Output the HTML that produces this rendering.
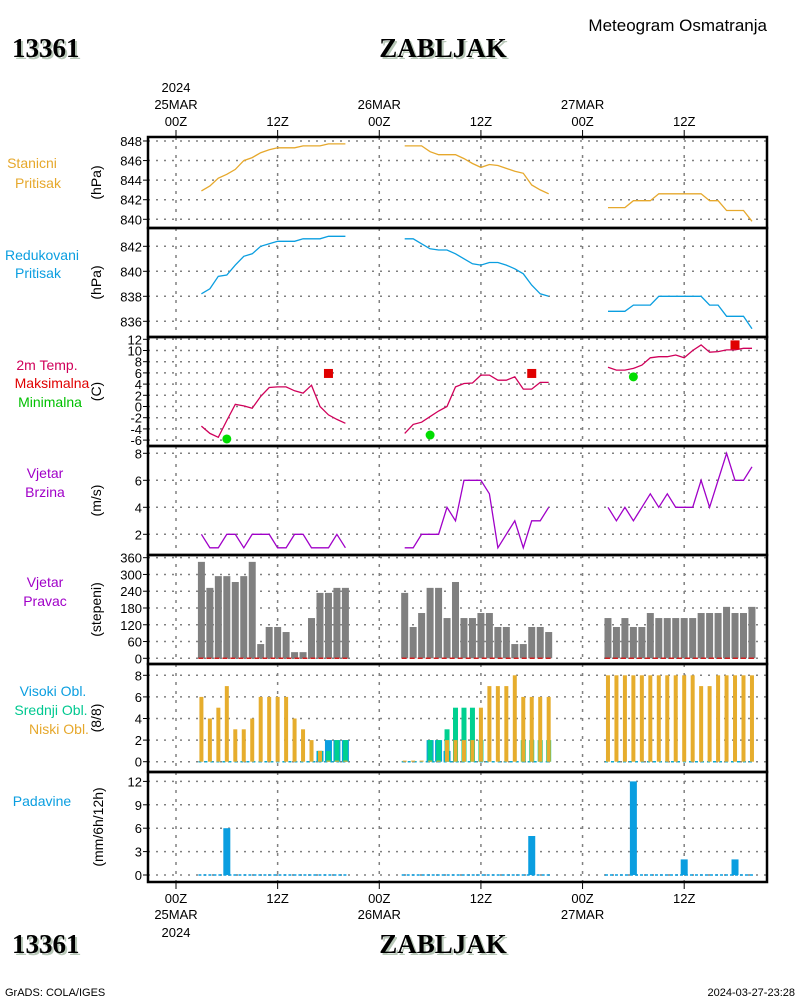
<!DOCTYPE html>
<html><head><meta charset="utf-8"><style>
html,body{margin:0;padding:0;background:#fff;width:800px;height:1000px;overflow:hidden}
svg{display:block}
text{font-family:"Liberation Sans",sans-serif}
.t{font-family:"Liberation Serif",serif;font-weight:bold;font-size:27px;fill:#000}
.ts{font-family:"Liberation Serif",serif;font-weight:bold;font-size:27px;fill:#b8c8b8}
.ax{font-size:13px;fill:#000}
.lb{font-size:14px}
</style></head><body>
<svg id="chart" width="800" height="1000" viewBox="0 0 800 1000" xmlns="http://www.w3.org/2000/svg">
<g>
<text class="ts" x="14" y="59">13361</text><text class="t" x="12" y="57">13361</text>
<text class="ts" x="445" y="59" text-anchor="middle">ZABLJAK</text><text class="t" x="443" y="57" text-anchor="middle">ZABLJAK</text>
<text x="767" y="31" text-anchor="end" font-size="17">Meteogram Osmatranja</text>
<text class="ts" x="14" y="955">13361</text><text class="t" x="12" y="953">13361</text>
<text class="ts" x="445" y="955" text-anchor="middle">ZABLJAK</text><text class="t" x="443" y="953" text-anchor="middle">ZABLJAK</text>
<text x="5" y="996" font-size="11">GrADS: COLA/IGES</text>
<text x="795" y="996" font-size="11" text-anchor="end">2024-03-27-23:28</text>
</g>
<g class="lb" text-anchor="middle">
<text x="32" y="168" fill="#e6a82c">Stanicni</text><text x="38" y="188" fill="#e6a82c">Pritisak</text>
<text x="42" y="260" fill="#0a9ee0">Redukovani</text><text x="38" y="278" fill="#0a9ee0">Pritisak</text>
<text x="47" y="370" fill="#d0005a">2m Temp.</text><text x="52" y="388" fill="#e00000">Maksimalna</text><text x="50" y="407" fill="#00c000">Minimalna</text>
<text x="45" y="478" fill="#a000c8">Vjetar</text><text x="45" y="497" fill="#a000c8">Brzina</text>
<text x="45" y="587" fill="#a000c8">Vjetar</text><text x="45" y="606" fill="#a000c8">Pravac</text>
<text x="53" y="696" fill="#0a9ee0">Visoki Obl.</text><text x="51" y="715" fill="#00c890">Srednji Obl.</text><text x="59" y="734" fill="#e6a82c">Niski Obl.</text>
<text x="42" y="806" fill="#0a9ee0">Padavine</text>
</g>
<g id="plots"></g>
</svg>
<script>
const NS="http://www.w3.org/2000/svg";
const root=document.getElementById('plots');
// ---- data (per day: 25MAR, 26MAR, 27MAR; hours 03..20) ----
const dayLabels=["25MAR","26MAR","27MAR"];
const obsHours=[3,4,5,6,7,8,9,10,11,12,13,14,15,16,17,18,19,20];
const stationPressure=[
[842.9,843.4,844.2,844.6,845.1,846.0,846.3,846.8,847.1,847.3,847.3,847.3,847.5,847.5,847.5,847.7,847.7,847.7],
[847.5,847.5,847.5,846.9,846.6,846.6,846.6,846.2,845.7,845.3,845.6,845.5,845.2,844.9,844.7,843.5,843.0,842.6],
[841.2,841.2,841.2,841.9,841.9,841.9,842.6,842.6,842.6,842.6,842.6,842.6,841.9,841.9,840.9,840.9,840.9,839.8]];
const reducedPressure=[
[838.2,838.6,839.6,839.7,840.5,841.2,841.4,842.0,842.2,842.4,842.4,842.4,842.6,842.6,842.6,842.8,842.8,842.8],
[842.6,842.6,842.2,841.8,841.7,841.7,841.4,841.0,840.6,840.5,840.7,840.7,840.5,840.2,839.8,838.9,838.2,838.0],
[836.8,836.8,836.8,837.3,837.3,837.3,838.0,838.0,838.0,838.0,838.0,838.0,837.3,837.3,836.4,836.4,836.4,835.4]];
const temperature=[
[-3.5,-4.8,-5.5,-2.5,0.4,0.1,-0.3,1.8,3.4,3.5,3.5,2.8,2.4,3.8,0.0,-1.5,-2.3,-3.0],
[-4.8,-3.2,-2.8,-1.8,-0.8,0.0,3.5,4.1,4.2,5.6,5.6,4.7,4.7,5.3,3.1,3.1,4.3,4.3],
[7.0,6.5,6.5,6.8,7.4,8.7,8.9,8.9,9.2,8.7,10.0,11.0,9.7,9.8,10.1,10.1,10.4,10.4]];
const tMax=[5.9,5.9,11.0];
const tMaxHour=[18,18,18];
const tMin=[-5.8,-5.1,5.3];
const tMinHour=[6,6,6];
const windSpeed=[
[2,1,1,2,2,1,2,2,2,1,1,2,2,1,1,1,2,1],
[1,1,2,2,2,4,3,6,6,6,5,1,2,3,1,3,3,4],
[4,3,4,3,4,5,4,5,4,4,4,6,4,6,8,6,6,7]];
const windDir=[
[345,252,294,294,273,294,345,51,112,112,94,22,22,144,234,234,252,252],
[234,112,162,252,252,144,273,144,144,162,162,112,112,51,51,112,112,94],
[144,112,144,112,112,162,144,144,144,144,144,162,162,162,184,162,162,184]];
const cloudHigh=[
[0,0,0,0,0,0,0,0,0,0,0,0,0,0,1,2,2,2],
[0,0,0,2,2,1,0,0,0,0,0,0,0,0,0,0,0,0],
[0,0,0,0,0,0,0,0,0,0,0,0,0,0,0,0,0,0]];
const cloudMid=[
[0,0,0,0,0,0,0,0,0,0,0,0,0,0,1,1,2,2],
[0,0,0,2,2,3,5,5,5,2,0,0,0,0,2,2,2,2],
[0,0,0,0,0,0,0,0,0,0,0,0,0,0,0,0,0,0]];
const cloudLow=[
[6,4,5,7,3,3,4,6,6,6,6,4,3,2,1,0,0,0],
[0,0,0,0,0,2,2,2,2,5,7,7,7,8,6,6,6,6],
[8,8,8,8,8,8,8,8,8,8,8,7,7,8,8,8,8,8]];
const precipHours=[6,12,18];
const precip=[[6,0,0],[0,0,5],[12,2,2]];
// ---- tick labels ----
const p1Ticks=[848,846,844,842,840];
const p2Ticks=[842,840,838,836];
const p3Ticks=[12,10,8,6,4,2,0,-2,-4,-6];
const p4Ticks=[8,6,4,2];
const p5Ticks=[360,300,240,180,120,60,0];
const p6Ticks=[8,6,4,2,0];
const p7Ticks=[12,9,6,3,0];

// ---- axis functions ----
const X0=148,X1=767;
function xT(day,h){return 176+8.47*(day*24+h);}
const panels=[
 {name:'station-pressure',top:137,bot:228,v0:840,y0:219.3,k:9.79,ticks:p1Ticks,title:'(hPa)'},
 {name:'reduced-pressure',top:228,bot:337,v0:836,y0:321.3,k:12.5,ticks:p2Ticks,title:'(hPa)'},
 {name:'temperature',top:337,bot:446,v0:0,y0:406.5,k:5.6,ticks:p3Ticks,title:'(C)'},
 {name:'wind-speed',top:446,bot:555,v0:0,y0:561.3,k:13.5,ticks:p4Ticks,title:'(m/s)'},
 {name:'wind-direction',top:555,bot:664,v0:0,y0:658.3,k:0.2795,ticks:p5Ticks,title:'(stepeni)'},
 {name:'cloud-cover',top:664,bot:772,v0:0,y0:761.7,k:10.8,ticks:p6Ticks,title:'(8/8)'},
 {name:'precipitation',top:772,bot:882,v0:0,y0:875,k:7.8,ticks:p7Ticks,title:'(mm/6h/12h)'}];
function yS(p,v){return p.y0-p.k*(v-p.v0);}
function mk(tag,attrs,parent){const e=document.createElementNS(NS,tag);for(const a in attrs)e.setAttribute(a,attrs[a]);(parent||root).appendChild(e);return e;}

const grid=mk('g',{});


panels.forEach((p,pi)=>{
  const g=mk('g',{});
  
  
  p.g=g;
  p.ticks.forEach(t=>{
    const y=yS(p,t);
    mk('line',{x1:X0,x2:X1,y1:y,y2:y,stroke:'#808080','stroke-width':1.5,'stroke-dasharray':'2,6'},grid);
    mk('line',{x1:X0-5,x2:X0,y1:y,y2:y,stroke:'#000','stroke-width':1},g);
    const tx=mk('text',{x:X0-6,y:y+5,'text-anchor':'end',class:'ax'},g);
    tx.textContent=t;
    
    
  });
  for(let d=0;d<3;d++)for(const h of [0,12]){
    const x=xT(d,h);
    mk('line',{x1:x,x2:x,y1:p.top,y2:p.bot,stroke:'#808080','stroke-width':1.5,'stroke-dasharray':'3,6'},grid);
  }
  const cy=(p.top+p.bot)/2;
  const tt=mk('text',{x:0,y:0,transform:`translate(${pi==6?103:101},${cy}) rotate(-90)`,'text-anchor':'middle',class:'lb'},g);
  tt.textContent=p.title;
  
  
});
function line(p,vals,d,color,name){
  const pts=obsHours.map((h,i)=>xT(d,h).toFixed(1)+','+yS(p,vals[i]).toFixed(1)).join(' ');
  const e=mk('polyline',{points:pts,fill:'none',stroke:color,'stroke-width':1.3},p.g);
  
  
}
function bar(p,x,w,v,color,name){
  const y=yS(p,v),yb=yS(p,0);
  const e=mk('rect',{x:x-w/2,y:y,width:w,height:Math.max(0,yb-y),fill:color},p.g);
  
  
}
function base(p,d,color,dash,name){
  const y=yS(p,0);
  const e=mk('line',{x1:xT(d,3)-3,x2:xT(d,20)+3,y1:y,y2:y,stroke:color,'stroke-width':1.5,'stroke-dasharray':dash},p.g);
  
  
}
const [P1,P2,P3,P4,P5,P6,P7]=panels;
for(let d=0;d<3;d++){
  line(P1,stationPressure[d],d,'#e6a82c','station-pressure-line');
  line(P2,reducedPressure[d],d,'#0a9ee0','reduced-pressure-line');
  line(P3,temperature[d],d,'#d0005a','temperature-line');
  line(P4,windSpeed[d],d,'#a000c8','wind-speed-line');
  obsHours.forEach((h,i)=>bar(P5,xT(d,h),7,windDir[d][i],'#808080','wind-direction-bar'));
  base(P5,d,'#d02020','5,3','wind-direction-baseline');
  base(P6,d,'#10a8d0','3,3','cloud-baseline');
  obsHours.forEach((h,i)=>{
    const x=xT(d,h);
    if(cloudHigh[d][i]>0)bar(P6,x,7,cloudHigh[d][i],'#0a9ee0','cloud-high-bar');
    if(cloudMid[d][i]>0)bar(P6,x,5,cloudMid[d][i],'#00d090','cloud-mid-bar');
    bar(P6,x,4,Math.max(cloudLow[d][i],0.1),'#e6ad2d','cloud-low-bar');
  });
  base(P7,d,'#0a9ee0','3,2','precip-baseline');
  precipHours.forEach((h,i)=>{ if(precip[d][i]>0)bar(P7,xT(d,h),7,precip[d][i],'#0a9ee0','precip-bar'); });
  const mx=mk('rect',{x:xT(d,tMaxHour[d])-4.5,y:yS(P3,tMax[d])-4.5,width:9,height:9,fill:'#e00000'},P3.g);
  
  
  const mn=mk('circle',{cx:xT(d,tMinHour[d]),cy:yS(P3,tMin[d]),r:4.5,fill:'#00dd00'},P3.g);
  
  
}
// frames
panels.forEach(p=>{
  const f=mk('rect',{x:X0,y:p.top,width:X1-X0,height:p.bot-p.top,fill:'none',stroke:'#000','stroke-width':2.5});
  
  
});
// time axes
const ax=mk('g',{class:'ax','text-anchor':'middle'});


function tl(x,y,s){const e=mk('text',{x:x,y:y},ax);e.textContent=s;}
for(let d=0;d<3;d++)for(const h of [0,12]){
  const x=xT(d,h);
  mk('line',{x1:x,x2:x,y1:130,y2:137,stroke:'#000'},ax);
  mk('line',{x1:x,x2:x,y1:882,y2:889,stroke:'#000'},ax);
  const lab=h==0?'00Z':'12Z';
  tl(x,126,lab); tl(x,903,lab);
  if(h==0){tl(x,109,dayLabels[d]); tl(x,919,dayLabels[d]);}
}
tl(xT(0,0),92,'2024'); tl(xT(0,0),937,'2024');
</script>
</body></html>
